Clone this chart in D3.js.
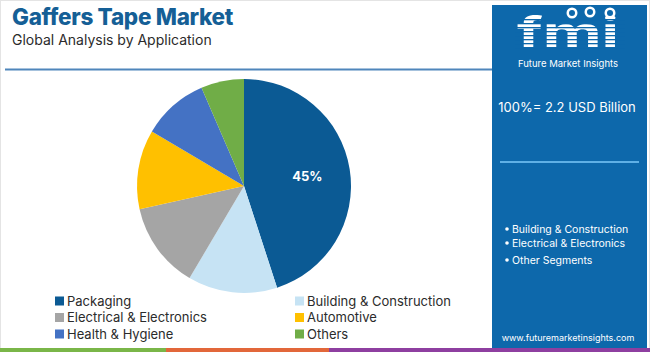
<!DOCTYPE html>
<html>
<head>
<meta charset="utf-8">
<script src="https://cdn.jsdelivr.net/npm/d3@7"></script>
<style>
  body { margin: 0; background: #fff; }
  svg text { font-family: Inter, "Noto Sans", sans-serif; }
</style>
</head>
<body>
<div id="chart"></div>
<script>
// chart data
var categories = ["Packaging", "Building & Construction", "Electrical & Electronics",
                  "Automotive", "Health & Hygiene", "Others"];
var shares = [45, 13.5, 13, 12, 10, 6.5];
var colors = ["#0b5a94", "#c6e3f4", "#a5a5a5", "#ffc000", "#4472c4", "#70ad47"];
var panelBullets = ["Building & Construction", "Electrical & Electronics", "Other Segments"];
var totalLabel = "100%= 2.2 USD Billion";

var W = 650, H = 352;
var svg = d3.select("#chart").append("svg")
  .attr("width", W).attr("height", H);

svg.append("rect").attr("x", 0.5).attr("y", 0.5).attr("width", W - 1).attr("height", H - 1)
  .attr("fill", "#fff").attr("stroke", "#e4e4e4");

// title
svg.append("text").attr("x", 12).attr("y", 25)
  .attr("font-size", 22.5).attr("font-weight", 800).attr("fill", "#155f96")
  .attr("letter-spacing", -0.3)
  .text("Gaffers Tape Market");
svg.append("text").attr("x", 12).attr("y", 45)
  .attr("font-size", 14).attr("fill", "#2b2b2b")
  .text("Global Analysis by Application");
svg.append("line").attr("x1", 5).attr("x2", 492).attr("y1", 69.5).attr("y2", 69.5)
  .attr("stroke", "#4f86bb").attr("stroke-width", 2);

// bottom strip
var strip = [[0, 166, "#7ab648"], [166, 329, "#e2673a"], [329, 650, "#8e3fa0"]];
svg.selectAll(".strip").data(strip).enter().append("rect")
  .attr("x", function (d) { return d[0]; }).attr("y", 348)
  .attr("width", function (d) { return d[1] - d[0]; }).attr("height", 4)
  .attr("fill", function (d) { return d[2]; });

// pie
var cx = 244, cy = 186, r = 107;
var pie = d3.pie().sort(null).value(function (d) { return d; });
var arc = d3.arc().innerRadius(0).outerRadius(r);
var g = svg.append("g").attr("transform", "translate(" + cx + "," + cy + ")");
var arcs = pie(shares);
g.selectAll("path").data(arcs).enter().append("path")
  .attr("d", arc)
  .attr("fill", function (d, i) { return colors[i]; });

var labelArc = d3.arc().innerRadius(r * 0.6).outerRadius(r * 0.6);
g.append("text")
  .attr("transform", "translate(" + labelArc.centroid(arcs[0]) + ")")
  .attr("text-anchor", "middle").attr("dy", "0.35em")
  .attr("font-size", 13).attr("font-weight", 700).attr("fill", "#fff")
  .text(shares[0] + "%");

// legend
var leg = svg.append("g");
var legItem = leg.selectAll("g").data(categories).enter().append("g")
  .attr("transform", function (d, i) {
    return "translate(" + (i % 2 ? 295 : 55) + "," + (301 + Math.floor(i / 2) * 16.5) + ")";
  });
legItem.append("rect").attr("x", 0).attr("y", -4.5).attr("width", 9).attr("height", 9)
  .attr("fill", function (d, i) { return colors[i]; });
legItem.append("text").attr("x", 12).attr("dy", "0.35em")
  .attr("font-size", 13).attr("fill", "#2b2b2b")
  .text(function (d) { return d; });

// right panel
var px = 492, pw = 155;
svg.append("rect").attr("x", px).attr("y", 5).attr("width", pw).attr("height", 343)
  .attr("fill", "#0d68ab");

// logo
var logo = svg.append("g");
logo.append("text").attr("x", 517).attr("y", 47)
  .attr("font-family", "'DejaVu Serif', serif").attr("font-size", 42).attr("font-weight", 700)
  .attr("textLength", 102).attr("lengthAdjust", "spacingAndGlyphs")
  .attr("fill", "#fff").text("fmi");
for (var s = 0; s < 8; s++) {
  logo.append("rect").attr("x", 515).attr("y", 19 + s * 4).attr("width", 110).attr("height", 1.3)
    .attr("fill", "#0d68ab");
}
[[572, 13], [590, 12], [610, 13]].forEach(function (c) {
  logo.append("circle").attr("cx", c[0]).attr("cy", c[1]).attr("r", 5.5).attr("fill", "#fff");
  logo.append("circle").attr("cx", c[0]).attr("cy", c[1]).attr("r", 3).attr("fill", "#0d68ab");
});
logo.append("text").attr("x", 568).attr("y", 67).attr("text-anchor", "middle")
  .attr("font-size", 9.5).attr("fill", "#fff").text("Future Market Insights");

svg.append("text").attr("x", 567).attr("y", 112).attr("text-anchor", "middle")
  .attr("font-size", 13).attr("fill", "#fff").text(totalLabel);
svg.append("line").attr("x1", 500).attr("x2", 639).attr("y1", 162).attr("y2", 162)
  .attr("stroke", "#5fb0e6").attr("stroke-width", 2);

var bullets = svg.selectAll(".bullet").data(panelBullets).enter().append("g")
  .attr("transform", function (d, i) { return "translate(507," + [233, 247, 264][i] + ")"; });
bullets.append("circle").attr("cx", 0).attr("cy", -4).attr("r", 1.8).attr("fill", "#fff");
bullets.append("text").attr("x", 5).attr("font-family", "'Open Sans', sans-serif")
  .attr("font-size", 10.5).attr("fill", "#fff").text(function (d) { return d; });

svg.append("text").attr("x", 568).attr("y", 341).attr("text-anchor", "middle")
  .attr("font-size", 9).attr("fill", "#fff").text("www.futuremarketinsights.com");
</script>
</body>
</html>
